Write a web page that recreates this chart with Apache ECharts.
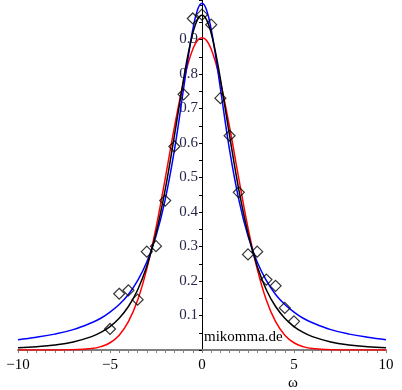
<!DOCTYPE html>
<html><head><meta charset="utf-8">
<script src="https://cdn.jsdelivr.net/npm/echarts@6/dist/echarts.min.js"></script>
<style>html,body{margin:0;padding:0;background:#fff}#c{width:402px;height:390px}</style>
</head><body><div id="c"></div>
<script>
// sample positions (omega) for the three curves
var omega = [-10,-9,-8,-7,-6,-5.5,-5,-4.5,-4,-3.5,-3,-2.5,-2,-1.5,-1,-0.75,-0.5,-0.25,0,0.25,0.5,0.75,1,1.5,2,2.5,3,3.5,4,4.5,5,5.5,6,7,8,9,10];
var redCurve = [0,0,0.0001,0.0006,0.004,0.0097,0.021,0.043,0.082,0.144,0.235,0.354,0.497,0.646,0.779,0.832,0.872,0.897,0.905,0.897,0.872,0.832,0.779,0.646,0.497,0.354,0.235,0.144,0.082,0.043,0.021,0.0097,0.004,0.0006,0.0001,0,0];
var blackCurve = [0.0066,0.0097,0.0147,0.0234,0.0388,0.051,0.068,0.092,0.126,0.174,0.2425,0.338,0.465,0.621,0.786,0.859,0.918,0.957,0.97,0.957,0.918,0.859,0.786,0.621,0.465,0.338,0.2425,0.174,0.126,0.092,0.068,0.051,0.0388,0.0234,0.0147,0.0097,0.0066];
var blueCurve = [0.030,0.037,0.046,0.059,0.079,0.092,0.110,0.132,0.161,0.201,0.255,0.330,0.436,0.579,0.758,0.849,0.929,0.985,1.005,0.985,0.929,0.849,0.758,0.579,0.436,0.330,0.255,0.201,0.161,0.132,0.110,0.092,0.079,0.059,0.046,0.037,0.030];
// measured points (diamonds)
var pointX = [-5,-4.5,-4,-3.5,-3,-2.5,-2,-1.5,-1,-0.5,0,0.5,1,1.5,2,2.5,3,3.5,4,4.5,5];
var pointY = [0.061,0.163,0.173,0.146,0.285,0.301,0.433,0.590,0.741,0.961,0.972,0.943,0.730,0.621,0.457,0.277,0.285,0.204,0.186,0.122,0.083];
var xTicks = [-10,-5,0,5,10];
var yTicks = [0.1,0.2,0.3,0.4,0.5,0.6,0.7,0.8,0.9];

function pairs(xs, ys){ return xs.map(function(x,i){ return [x, ys[i]]; }); }
var serif = '"Liberation Serif","DejaVu Serif",serif';
var chart = echarts.init(document.getElementById('c'), null, {renderer:'canvas'});
chart.setOption({
  animation:false,
  backgroundColor:'#ffffff',
  grid:{left:18,right:16,top:0,bottom:40,containLabel:false,outerBoundsMode:'none'},
  xAxis:{type:'value',min:-10,max:10,interval:5,
    axisLine:{onZero:false,lineStyle:{color:'#808080',width:2}},
    axisTick:{show:true,length:3,lineStyle:{color:'#808080',width:1}},
    minorTick:{show:true,splitNumber:10,length:3,lineStyle:{color:'#808080',width:1}},
    splitLine:{show:false},
    axisLabel:{margin:8,color:'#000',fontFamily:serif,fontSize:15,
      formatter:function(v){ return xTicks.indexOf(v)>=0 ? String(v).replace('-','\u2212') : ''; }}
  },
  yAxis:{type:'value',min:0,max:1.0145,interval:0.1,position:'left',offset:-184,
    axisLine:{onZero:false,lineStyle:{color:'#000',width:1}},
    axisTick:{show:true,length:3,lineStyle:{color:'#000'}},
    minorTick:{show:true,splitNumber:2,length:3,lineStyle:{color:'#000'}},
    splitLine:{show:false},
    axisLabel:{margin:4,color:'#26264a',fontFamily:serif,fontSize:15,showMaxLabel:false,showMinLabel:false,
      formatter:function(v){ var r=Math.round(v*10)/10; return yTicks.indexOf(r)>=0 && Math.abs(r-v)<1e-6 ? r.toFixed(1) : ''; }}
  },
  series:[
    {type:'line',data:pairs(omega,redCurve),smooth:0.4,showSymbol:false,lineStyle:{color:'#ff0000',width:1.5},z:2},
    {type:'line',data:pairs(omega,blueCurve),smooth:0.4,showSymbol:false,lineStyle:{color:'#0000ff',width:1.5},z:3},
    {type:'line',data:pairs(omega,blackCurve),smooth:0.4,showSymbol:false,lineStyle:{color:'#000000',width:1.5},z:4},
    {type:'scatter',data:pairs(pointX,pointY),symbol:'diamond',symbolSize:[11,11],
      itemStyle:{color:'rgba(0,0,0,0)',borderColor:'#000',borderWidth:1.2},z:5}
  ],
  graphic:[
    {type:'text',left:204,top:330,style:{text:'mikomma.de',fill:'#000',font:'15px '+serif}},
    {type:'text',left:288,top:376,style:{text:'\u03c9',fill:'#000',font:'15px '+serif}}
  ]
});
</script></body></html>
